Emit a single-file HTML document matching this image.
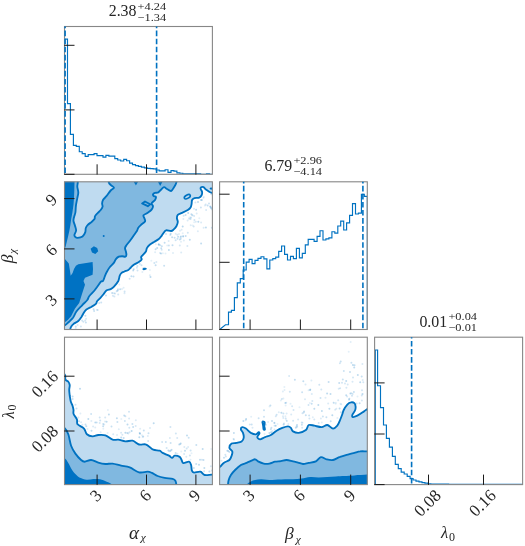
<!DOCTYPE html>
<html><head><meta charset="utf-8"><title>corner</title>
<style>html,body{margin:0;padding:0;background:#fff}svg{display:block}</style></head>
<body>
<svg width="525" height="546" viewBox="0 0 525 546">
<rect width="525" height="546" fill="#fff"/>
<defs>
<clipPath id="c00"><rect x="64.5" y="26.5" width="147.9" height="147.8"/></clipPath>
<clipPath id="c10"><rect x="64.5" y="181.8" width="147.9" height="147.7"/></clipPath>
<clipPath id="c20"><rect x="64.5" y="337.2" width="147.9" height="147.4"/></clipPath>
<clipPath id="c01"><rect x="219.6" y="26.5" width="147.7" height="147.8"/></clipPath>
<clipPath id="c11"><rect x="219.6" y="181.8" width="147.7" height="147.7"/></clipPath>
<clipPath id="c21"><rect x="219.6" y="337.2" width="147.7" height="147.4"/></clipPath>
<clipPath id="c02"><rect x="374.6" y="26.5" width="148.0" height="147.8"/></clipPath>
<clipPath id="c12"><rect x="374.6" y="181.8" width="148.0" height="147.7"/></clipPath>
<clipPath id="c22"><rect x="374.6" y="337.2" width="148.0" height="147.4"/></clipPath>
</defs>
<g clip-path="url(#c00)">
<path d="M64.5,39.1L64.5,39.1L67.5,39.1L67.5,103.6L70.4,103.6L70.4,134.3L73.4,134.3L73.4,145.3L76.3,145.3L76.3,146.4L79.3,146.4L79.3,151.7L82.2,151.7L82.2,153.6L85.2,153.6L85.2,156.4L88.2,156.4L88.2,154.6L91.1,154.6L91.1,154.6L94.1,154.6L94.1,153.6L97.0,153.6L97.0,155.6L100.0,155.6L100.0,155.6L103.0,155.6L103.0,157.1L105.9,157.1L105.9,155.4L108.9,155.4L108.9,156.1L111.8,156.1L111.8,156.1L114.8,156.1L114.8,158.6L117.7,158.6L117.7,160.0L120.7,160.0L120.7,161.0L123.7,161.0L123.7,159.3L126.6,159.3L126.6,160.7L129.6,160.7L129.6,163.1L132.5,163.1L132.5,164.6L135.5,164.6L135.5,165.6L138.4,165.6L138.4,166.4L141.4,166.4L141.4,167.1L144.4,167.1L144.4,167.9L147.3,167.9L147.3,168.3L150.3,168.3L150.3,168.6L153.2,168.6L153.2,168.9L156.2,168.9L156.2,170.0L159.2,170.0L159.2,170.8L162.1,170.8L162.1,170.8L165.1,170.8L165.1,169.7L168.0,169.7L168.0,172.3L171.0,172.3L171.0,170.6L173.9,170.6L173.9,171.1L176.9,171.1L176.9,172.9L179.9,172.9L179.9,173.2L182.8,173.2L182.8,173.8L185.8,173.8L185.8,173.8L188.7,173.8L188.7,173.8L191.7,173.8L191.7,173.8L194.7,173.8L194.7,173.8L197.6,173.8L197.6,173.8L200.6,173.8L200.6,174.4L203.5,174.4L203.5,174.3L206.5,174.3L206.5,173.8L209.4,173.8L209.4,174.4L212.4,174.4L212.4,174.3" fill="none" stroke="#0072c1" stroke-width="1.15" stroke-linejoin="miter"/>
</g>
<g clip-path="url(#c10)">
<g fill="#0072c1">
<circle cx="161.2" cy="248.3" r="1" fill-opacity="0.21"/>
<circle cx="189.4" cy="217.5" r="1" fill-opacity="0.12"/>
<circle cx="188.2" cy="213.1" r="1" fill-opacity="0.27"/>
<circle cx="96.7" cy="309.7" r="1" fill-opacity="0.11"/>
<circle cx="99.2" cy="302.9" r="1" fill-opacity="0.18"/>
<circle cx="150.5" cy="276.9" r="1" fill-opacity="0.27"/>
<circle cx="196.7" cy="213.4" r="1" fill-opacity="0.14"/>
<circle cx="118.2" cy="294.6" r="1" fill-opacity="0.17"/>
<circle cx="196.1" cy="209.7" r="1" fill-opacity="0.25"/>
<circle cx="133.5" cy="276.4" r="1" fill-opacity="0.23"/>
<circle cx="112.2" cy="292.9" r="1" fill-opacity="0.26"/>
<circle cx="183.4" cy="218.9" r="1" fill-opacity="0.12"/>
<circle cx="142.4" cy="272.1" r="1" fill-opacity="0.12"/>
<circle cx="168.6" cy="240.9" r="1" fill-opacity="0.14"/>
<circle cx="203.6" cy="227.7" r="1" fill-opacity="0.14"/>
<circle cx="181.2" cy="252.4" r="1" fill-opacity="0.14"/>
<circle cx="119.3" cy="284.6" r="1" fill-opacity="0.12"/>
<circle cx="161.7" cy="249.7" r="1" fill-opacity="0.16"/>
<circle cx="198.0" cy="202.1" r="1" fill-opacity="0.25"/>
<circle cx="191.4" cy="214.3" r="1" fill-opacity="0.23"/>
<circle cx="204.9" cy="205.5" r="1" fill-opacity="0.12"/>
<circle cx="158.8" cy="244.3" r="1" fill-opacity="0.22"/>
<circle cx="173.0" cy="252.9" r="1" fill-opacity="0.13"/>
<circle cx="136.9" cy="267.7" r="1" fill-opacity="0.16"/>
<circle cx="157.2" cy="248.1" r="1" fill-opacity="0.25"/>
<circle cx="155.8" cy="244.2" r="1" fill-opacity="0.1"/>
<circle cx="189.8" cy="239.8" r="1" fill-opacity="0.26"/>
<circle cx="207.6" cy="205.4" r="1" fill-opacity="0.23"/>
<circle cx="206.1" cy="209.9" r="1" fill-opacity="0.16"/>
<circle cx="165.5" cy="253.4" r="1" fill-opacity="0.11"/>
<circle cx="187.8" cy="232.7" r="1" fill-opacity="0.18"/>
<circle cx="203.7" cy="196.9" r="1" fill-opacity="0.15"/>
<circle cx="170.7" cy="233.7" r="1" fill-opacity="0.25"/>
<circle cx="179.8" cy="245.4" r="1" fill-opacity="0.16"/>
<circle cx="172.1" cy="237.2" r="1" fill-opacity="0.24"/>
<circle cx="209.0" cy="203.4" r="1" fill-opacity="0.2"/>
<circle cx="120.1" cy="289.3" r="1" fill-opacity="0.24"/>
<circle cx="113.9" cy="293.2" r="1" fill-opacity="0.15"/>
<circle cx="164.6" cy="242.8" r="1" fill-opacity="0.24"/>
<circle cx="162.9" cy="253.3" r="1" fill-opacity="0.1"/>
<circle cx="106.0" cy="295.5" r="1" fill-opacity="0.21"/>
<circle cx="139.9" cy="264.1" r="1" fill-opacity="0.18"/>
<circle cx="177.3" cy="234.8" r="1" fill-opacity="0.16"/>
<circle cx="179.8" cy="239.5" r="1" fill-opacity="0.23"/>
<circle cx="181.0" cy="236.4" r="1" fill-opacity="0.21"/>
<circle cx="201.1" cy="222.6" r="1" fill-opacity="0.14"/>
<circle cx="195.4" cy="202.4" r="1" fill-opacity="0.17"/>
<circle cx="149.9" cy="270.1" r="1" fill-opacity="0.11"/>
<circle cx="190.9" cy="217.4" r="1" fill-opacity="0.23"/>
<circle cx="94.1" cy="311.0" r="1" fill-opacity="0.22"/>
<circle cx="86.1" cy="318.8" r="1" fill-opacity="0.15"/>
<circle cx="183.1" cy="236.4" r="1" fill-opacity="0.24"/>
<circle cx="155.6" cy="249.3" r="1" fill-opacity="0.24"/>
<circle cx="154.3" cy="263.1" r="1" fill-opacity="0.2"/>
<circle cx="141.5" cy="265.2" r="1" fill-opacity="0.21"/>
<circle cx="75.8" cy="326.4" r="1" fill-opacity="0.22"/>
<circle cx="122.0" cy="289.1" r="1" fill-opacity="0.12"/>
<circle cx="183.2" cy="235.9" r="1" fill-opacity="0.14"/>
<circle cx="137.5" cy="270.4" r="1" fill-opacity="0.19"/>
<circle cx="97.6" cy="310.0" r="1" fill-opacity="0.21"/>
<circle cx="124.5" cy="293.3" r="1" fill-opacity="0.14"/>
<circle cx="114.4" cy="296.6" r="1" fill-opacity="0.17"/>
<circle cx="190.5" cy="219.0" r="1" fill-opacity="0.22"/>
<circle cx="190.7" cy="225.2" r="1" fill-opacity="0.13"/>
<circle cx="82.1" cy="320.4" r="1" fill-opacity="0.19"/>
<circle cx="93.6" cy="309.3" r="1" fill-opacity="0.24"/>
<circle cx="151.3" cy="260.7" r="1" fill-opacity="0.1"/>
<circle cx="180.0" cy="230.7" r="1" fill-opacity="0.13"/>
<circle cx="155.6" cy="265.2" r="1" fill-opacity="0.24"/>
<circle cx="168.9" cy="245.4" r="1" fill-opacity="0.19"/>
<circle cx="205.9" cy="227.5" r="1" fill-opacity="0.25"/>
<circle cx="192.7" cy="225.5" r="1" fill-opacity="0.11"/>
<circle cx="175.6" cy="240.2" r="1" fill-opacity="0.2"/>
<circle cx="164.1" cy="265.8" r="1" fill-opacity="0.21"/>
<circle cx="182.7" cy="233.2" r="1" fill-opacity="0.11"/>
<circle cx="210.2" cy="206.6" r="1" fill-opacity="0.26"/>
<circle cx="197.9" cy="231.2" r="1" fill-opacity="0.13"/>
<circle cx="143.5" cy="267.9" r="1" fill-opacity="0.2"/>
<circle cx="160.2" cy="245.2" r="1" fill-opacity="0.21"/>
<circle cx="160.0" cy="253.0" r="1" fill-opacity="0.15"/>
<circle cx="80.9" cy="326.5" r="1" fill-opacity="0.17"/>
<circle cx="201.0" cy="200.0" r="1" fill-opacity="0.27"/>
<circle cx="137.4" cy="265.9" r="1" fill-opacity="0.19"/>
<circle cx="170.3" cy="235.0" r="1" fill-opacity="0.2"/>
<circle cx="189.0" cy="218.8" r="1" fill-opacity="0.15"/>
<circle cx="177.5" cy="238.8" r="1" fill-opacity="0.21"/>
<circle cx="182.7" cy="226.6" r="1" fill-opacity="0.27"/>
<circle cx="203.4" cy="198.1" r="1" fill-opacity="0.11"/>
<circle cx="167.2" cy="245.6" r="1" fill-opacity="0.11"/>
<circle cx="85.9" cy="322.6" r="1" fill-opacity="0.21"/>
<circle cx="187.6" cy="220.5" r="1" fill-opacity="0.14"/>
<circle cx="198.3" cy="221.8" r="1" fill-opacity="0.27"/>
<circle cx="133.7" cy="269.3" r="1" fill-opacity="0.25"/>
<circle cx="85.2" cy="320.6" r="1" fill-opacity="0.18"/>
<circle cx="181.0" cy="241.8" r="1" fill-opacity="0.11"/>
<circle cx="179.0" cy="234.0" r="1" fill-opacity="0.12"/>
<circle cx="129.6" cy="278.8" r="1" fill-opacity="0.2"/>
<circle cx="117.7" cy="290.6" r="1" fill-opacity="0.26"/>
<circle cx="205.7" cy="204.5" r="1" fill-opacity="0.16"/>
<circle cx="131.4" cy="276.3" r="1" fill-opacity="0.24"/>
<circle cx="161.0" cy="253.4" r="1" fill-opacity="0.25"/>
<circle cx="115.0" cy="293.4" r="1" fill-opacity="0.19"/>
<circle cx="185.6" cy="215.1" r="1" fill-opacity="0.23"/>
<circle cx="212.0" cy="209.4" r="1" fill-opacity="0.12"/>
<circle cx="181.6" cy="229.7" r="1" fill-opacity="0.14"/>
<circle cx="193.7" cy="226.4" r="1" fill-opacity="0.17"/>
<circle cx="174.6" cy="237.7" r="1" fill-opacity="0.22"/>
<circle cx="172.5" cy="245.3" r="1" fill-opacity="0.24"/>
<circle cx="133.2" cy="270.5" r="1" fill-opacity="0.23"/>
<circle cx="183.6" cy="215.7" r="1" fill-opacity="0.18"/>
<circle cx="77.6" cy="325.0" r="1" fill-opacity="0.14"/>
<circle cx="158.7" cy="244.5" r="1" fill-opacity="0.15"/>
<circle cx="192.4" cy="215.3" r="1" fill-opacity="0.25"/>
<circle cx="194.4" cy="220.1" r="1" fill-opacity="0.19"/>
<circle cx="166.0" cy="234.1" r="1" fill-opacity="0.18"/>
<circle cx="175.7" cy="233.7" r="1" fill-opacity="0.13"/>
<circle cx="124.6" cy="291.5" r="1" fill-opacity="0.19"/>
<circle cx="194.0" cy="208.7" r="1" fill-opacity="0.15"/>
<circle cx="180.5" cy="237.2" r="1" fill-opacity="0.18"/>
<circle cx="156.4" cy="262.1" r="1" fill-opacity="0.15"/>
<circle cx="118.0" cy="289.2" r="1" fill-opacity="0.18"/>
<circle cx="183.9" cy="240.4" r="1" fill-opacity="0.12"/>
<circle cx="180.9" cy="238.8" r="1" fill-opacity="0.18"/>
<circle cx="195.8" cy="221.7" r="1" fill-opacity="0.15"/>
<circle cx="116.7" cy="291.2" r="1" fill-opacity="0.21"/>
<circle cx="112.9" cy="295.8" r="1" fill-opacity="0.16"/>
<circle cx="85.4" cy="315.7" r="1" fill-opacity="0.22"/>
<circle cx="178.1" cy="236.8" r="1" fill-opacity="0.24"/>
<circle cx="158.8" cy="245.0" r="1" fill-opacity="0.13"/>
<circle cx="194.1" cy="215.9" r="1" fill-opacity="0.17"/>
<circle cx="194.1" cy="222.2" r="1" fill-opacity="0.1"/>
<circle cx="123.6" cy="287.7" r="1" fill-opacity="0.12"/>
<circle cx="168.9" cy="249.9" r="1" fill-opacity="0.25"/>
<circle cx="155.1" cy="252.2" r="1" fill-opacity="0.12"/>
<circle cx="211.8" cy="227.7" r="1" fill-opacity="0.21"/>
<circle cx="101.2" cy="302.6" r="1" fill-opacity="0.2"/>
<circle cx="187.4" cy="246.1" r="1" fill-opacity="0.16"/>
<circle cx="149.9" cy="275.2" r="1" fill-opacity="0.12"/>
<circle cx="211.1" cy="207.8" r="1" fill-opacity="0.2"/>
<circle cx="199.3" cy="218.2" r="1" fill-opacity="0.11"/>
<circle cx="211.4" cy="194.2" r="1" fill-opacity="0.21"/>
<circle cx="185.7" cy="236.1" r="1" fill-opacity="0.24"/>
<circle cx="75.7" cy="328.2" r="1" fill-opacity="0.12"/>
<circle cx="161.9" cy="246.2" r="1" fill-opacity="0.21"/>
<circle cx="201.1" cy="243.4" r="1" fill-opacity="0.24"/>
<circle cx="200.9" cy="207.4" r="1" fill-opacity="0.2"/>
<circle cx="210.5" cy="207.0" r="1" fill-opacity="0.17"/>
<circle cx="202.0" cy="199.9" r="1" fill-opacity="0.22"/>
<circle cx="211.3" cy="208.6" r="1" fill-opacity="0.23"/>
<circle cx="83.4" cy="321.8" r="1" fill-opacity="0.19"/>
</g>
<path d="M219.0,193.3C217.8,193.2 213.8,193.2 212.1,192.9C210.4,192.6 209.8,192.1 208.8,191.5C207.8,190.9 206.8,190.3 205.9,189.6C205.0,188.9 204.3,187.6 203.5,187.2C202.7,186.8 201.6,186.9 201.1,187.2C200.6,187.5 200.5,188.3 200.7,189.1C200.9,189.9 201.9,191.0 202.1,192.0C202.2,193.0 202.1,194.4 201.6,195.3C201.1,196.2 200.4,197.2 199.2,197.7C198.0,198.2 195.7,197.7 194.5,198.1C193.3,198.5 192.6,199.0 192.1,200.0C191.6,201.0 191.8,202.7 191.6,203.9C191.4,205.1 191.3,206.2 190.7,207.2C190.1,208.2 189.2,209.1 187.8,210.0C186.4,210.9 183.8,212.1 182.1,212.9C180.4,213.7 178.7,213.9 177.8,214.8C176.9,215.7 176.9,216.9 176.9,218.1C176.9,219.3 177.9,220.7 177.8,222.0C177.7,223.3 177.1,224.9 176.4,226.2C175.7,227.5 174.4,228.8 173.5,229.6C172.6,230.4 172.3,230.9 171.1,231.0C169.9,231.1 167.3,230.1 166.1,230.3C164.9,230.5 164.8,231.5 164.0,232.4C163.2,233.3 162.5,234.7 161.6,235.8C160.7,236.9 160.1,238.1 158.8,239.1C157.5,240.1 155.5,241.1 154.0,242.0C152.5,242.9 150.9,243.8 149.7,244.8C148.5,245.8 147.5,247.0 146.9,248.1C146.3,249.2 146.6,250.3 145.9,251.5C145.2,252.7 143.4,254.4 142.6,255.3C141.8,256.2 141.3,256.5 141.1,257.2C140.9,257.9 142.0,258.8 141.6,259.6C141.2,260.4 140.0,261.2 138.8,262.0C137.6,262.8 135.8,263.4 134.5,264.3C133.2,265.2 132.1,266.2 131.1,267.2C130.1,268.1 129.4,269.3 128.3,270.0C127.2,270.7 125.6,271.0 124.5,271.5C123.4,272.0 122.4,272.2 121.6,272.9C120.8,273.6 120.2,274.4 119.7,275.8C119.2,277.2 119.2,279.2 118.3,281.0C117.3,282.8 115.3,285.3 114.0,286.7C112.7,288.1 112.0,288.5 110.7,289.1C109.4,289.7 107.6,289.6 106.4,290.5C105.2,291.4 104.6,292.9 103.5,294.3C102.4,295.7 100.8,297.4 99.7,298.6C98.6,299.8 97.5,300.6 96.9,301.5C96.3,302.4 96.8,303.0 95.9,303.9C95.0,304.8 93.2,305.8 91.6,306.7C90.0,307.6 87.7,308.7 86.4,309.6C85.1,310.6 84.8,311.2 84.0,312.4C83.2,313.6 82.5,315.3 81.6,316.7C80.6,318.1 79.6,319.8 78.3,321.0C77.0,322.2 74.7,322.9 73.5,323.9C72.3,324.8 71.6,325.8 71.1,326.7C70.5,327.6 70.4,328.1 70.2,329.6C70.0,331.1 69.9,334.7 69.8,335.7L58.5,335.7L58.5,175.7L219.0,175.7Z" fill="#bfdbf0" stroke="none" fill-rule="evenodd"/>
<path d="M77.8,175.7C77.8,176.8 77.9,180.6 77.8,182.4C77.7,184.2 77.2,185.0 77.3,186.7C77.4,188.4 78.3,190.5 78.3,192.4C78.3,194.3 77.7,195.9 77.3,198.1C76.9,200.3 76.2,203.4 75.9,205.8C75.6,208.2 75.7,210.5 75.4,212.4C75.1,214.3 74.3,215.8 74.0,217.2C73.7,218.6 73.3,219.6 73.5,221.0C73.7,222.4 74.6,224.2 75.0,225.8C75.4,227.4 76.2,229.0 76.1,230.5C76.0,232.0 74.5,233.9 74.4,235.0C74.3,236.1 75.0,236.7 75.5,237.2C76.0,237.7 76.5,238.0 77.7,237.9C78.9,237.8 81.2,237.4 82.5,236.4C83.8,235.4 84.8,233.5 85.3,232.1C85.8,230.7 85.4,229.2 85.8,228.0C86.2,226.8 86.8,225.8 87.8,224.8C88.8,223.8 90.5,222.9 91.6,222.0C92.7,221.1 93.9,220.1 94.5,219.1C95.1,218.1 94.5,217.1 95.0,216.2C95.5,215.2 96.3,214.4 97.3,213.4C98.2,212.4 99.8,211.1 100.7,210.0C101.6,208.9 102.4,207.8 102.6,206.7C102.8,205.6 102.0,204.5 102.1,203.4C102.2,202.3 102.3,201.2 103.0,200.0C103.7,198.8 105.1,197.8 106.4,196.2C107.7,194.6 109.4,191.9 110.7,190.5C112.0,189.1 113.9,188.6 114.0,187.7C114.1,186.8 112.0,186.2 111.1,185.3C110.2,184.4 109.3,184.0 108.8,182.4C108.3,180.8 108.4,176.8 108.3,175.7L176.4,175.7C176.4,176.8 176.8,180.5 176.4,182.4C176.0,184.3 174.9,185.8 174.0,187.2C173.1,188.6 172.3,190.7 171.1,191.0C169.9,191.3 168.2,189.6 167.0,189.0C165.8,188.4 165.1,187.0 164.0,187.2C162.9,187.4 161.6,189.1 160.7,190.0C159.8,190.9 159.2,191.9 158.3,192.4C157.4,192.9 155.9,192.6 155.0,192.9C154.1,193.2 153.2,193.8 153.0,194.3C152.8,194.9 153.5,195.8 154.0,196.2C154.5,196.6 155.7,196.1 155.9,196.7C156.1,197.3 155.7,198.9 155.0,200.0C154.3,201.1 151.9,202.4 151.6,203.4C151.3,204.4 153.0,205.2 153.0,206.2C153.0,207.2 152.5,208.5 151.6,209.6C150.7,210.7 148.7,211.9 147.3,212.9C146.0,213.9 144.0,214.4 143.5,215.3C143.0,216.2 144.2,217.6 144.5,218.6C144.8,219.6 145.6,220.5 145.0,221.5C144.4,222.5 142.2,223.8 141.1,224.8C140.0,225.8 139.0,226.7 138.3,227.7C137.6,228.7 137.7,229.7 136.9,231.0C136.1,232.3 134.6,234.2 133.5,235.8C132.4,237.4 131.4,238.9 130.2,240.5C129.0,242.1 127.3,244.0 126.4,245.3C125.5,246.6 125.1,247.1 125.0,248.1C124.9,249.1 125.7,250.4 125.9,251.5C126.1,252.6 126.5,253.9 126.4,254.8C126.3,255.7 126.1,256.5 125.4,256.7C124.7,256.9 123.2,256.2 122.1,256.2C121.0,256.2 119.8,256.2 118.8,256.7C117.8,257.2 116.7,258.1 115.9,259.1C115.1,260.1 115.0,261.2 114.0,262.6C113.0,264.0 110.8,265.8 109.7,267.2C108.6,268.6 108.1,269.6 107.3,271.0C106.5,272.4 105.7,274.1 105.0,275.8C104.3,277.5 103.7,280.1 103.0,281.0C102.3,281.9 102.0,280.6 101.1,281.5C100.1,282.4 98.4,285.2 97.3,286.7C96.2,288.2 95.8,288.9 94.5,290.5C93.2,292.1 90.4,294.6 89.2,296.2C88.0,297.8 88.5,298.5 87.3,300.0C86.1,301.5 83.9,303.4 82.1,305.3C80.3,307.2 77.9,309.4 76.4,311.5C74.9,313.6 74.3,315.9 73.0,317.7C71.7,319.4 70.1,320.7 68.8,322.0C67.5,323.3 66.7,324.3 65.0,325.3C63.3,326.3 59.6,327.6 58.5,328.0L58.5,175.7Z" fill="#80b8e0" stroke="none" fill-rule="evenodd"/>
<path d="M58.5,175.7L74.6,175.7L74.5,182.4L74.3,190.5L74.0,198.1L73.5,204.8L72.4,212.4L71.2,219.0L70.3,225.5L69.3,231.0L68.2,236.0L66.8,241.7L65.4,247.5L58.5,248.5Z" fill="#0072c3" stroke="none" fill-rule="evenodd"/>
<path d="M58.5,257.5L64.5,258.6L68.8,263.4L69.7,269.1L70.7,275.8L72.6,272.9L74.0,269.1L75.9,265.8L78.3,264.3L92.6,262.0L93.0,269.1L92.6,274.8L85.0,277.7L83.5,281.0L85.0,284.8L81.6,295.3L79.2,302.9L75.0,308.6L71.1,316.2L67.8,320.0L64.5,322.4L58.5,324.0Z" fill="#0072c3" stroke="none" fill-rule="evenodd"/>
<path d="M90.6,248.8L93.9,246.2L97.2,247.9L98.2,251.2L95.3,254.0L92.0,252.6Z" fill="#0072c3" stroke="none" fill-rule="evenodd"/>
<ellipse cx="187.3" cy="196.7" rx="3.3" ry="1.7" transform="rotate(-30 187.3 196.7)" fill="none" stroke="#0072c1" stroke-width="1.6"/>
<circle cx="103.7" cy="236" r="1.0" fill="#0072c3"/>
<path d="M219.0,193.3C217.8,193.2 213.8,193.2 212.1,192.9C210.4,192.6 209.8,192.1 208.8,191.5C207.8,190.9 206.8,190.3 205.9,189.6C205.0,188.9 204.3,187.6 203.5,187.2C202.7,186.8 201.6,186.9 201.1,187.2C200.6,187.5 200.5,188.3 200.7,189.1C200.9,189.9 201.9,191.0 202.1,192.0C202.2,193.0 202.1,194.4 201.6,195.3C201.1,196.2 200.4,197.2 199.2,197.7C198.0,198.2 195.7,197.7 194.5,198.1C193.3,198.5 192.6,199.0 192.1,200.0C191.6,201.0 191.8,202.7 191.6,203.9C191.4,205.1 191.3,206.2 190.7,207.2C190.1,208.2 189.2,209.1 187.8,210.0C186.4,210.9 183.8,212.1 182.1,212.9C180.4,213.7 178.7,213.9 177.8,214.8C176.9,215.7 176.9,216.9 176.9,218.1C176.9,219.3 177.9,220.7 177.8,222.0C177.7,223.3 177.1,224.9 176.4,226.2C175.7,227.5 174.4,228.8 173.5,229.6C172.6,230.4 172.3,230.9 171.1,231.0C169.9,231.1 167.3,230.1 166.1,230.3C164.9,230.5 164.8,231.5 164.0,232.4C163.2,233.3 162.5,234.7 161.6,235.8C160.7,236.9 160.1,238.1 158.8,239.1C157.5,240.1 155.5,241.1 154.0,242.0C152.5,242.9 150.9,243.8 149.7,244.8C148.5,245.8 147.5,247.0 146.9,248.1C146.3,249.2 146.6,250.3 145.9,251.5C145.2,252.7 143.4,254.4 142.6,255.3C141.8,256.2 141.3,256.5 141.1,257.2C140.9,257.9 142.0,258.8 141.6,259.6C141.2,260.4 140.0,261.2 138.8,262.0C137.6,262.8 135.8,263.4 134.5,264.3C133.2,265.2 132.1,266.2 131.1,267.2C130.1,268.1 129.4,269.3 128.3,270.0C127.2,270.7 125.6,271.0 124.5,271.5C123.4,272.0 122.4,272.2 121.6,272.9C120.8,273.6 120.2,274.4 119.7,275.8C119.2,277.2 119.2,279.2 118.3,281.0C117.3,282.8 115.3,285.3 114.0,286.7C112.7,288.1 112.0,288.5 110.7,289.1C109.4,289.7 107.6,289.6 106.4,290.5C105.2,291.4 104.6,292.9 103.5,294.3C102.4,295.7 100.8,297.4 99.7,298.6C98.6,299.8 97.5,300.6 96.9,301.5C96.3,302.4 96.8,303.0 95.9,303.9C95.0,304.8 93.2,305.8 91.6,306.7C90.0,307.6 87.7,308.7 86.4,309.6C85.1,310.6 84.8,311.2 84.0,312.4C83.2,313.6 82.5,315.3 81.6,316.7C80.6,318.1 79.6,319.8 78.3,321.0C77.0,322.2 74.7,322.9 73.5,323.9C72.3,324.8 71.6,325.8 71.1,326.7C70.5,327.6 70.4,328.1 70.2,329.6C70.0,331.1 69.9,334.7 69.8,335.7" fill="none" stroke="#0072c1" stroke-width="1.85" stroke-linejoin="round"/>
<path d="M77.8,175.7C77.8,176.8 77.9,180.6 77.8,182.4C77.7,184.2 77.2,185.0 77.3,186.7C77.4,188.4 78.3,190.5 78.3,192.4C78.3,194.3 77.7,195.9 77.3,198.1C76.9,200.3 76.2,203.4 75.9,205.8C75.6,208.2 75.7,210.5 75.4,212.4C75.1,214.3 74.3,215.8 74.0,217.2C73.7,218.6 73.3,219.6 73.5,221.0C73.7,222.4 74.6,224.2 75.0,225.8C75.4,227.4 76.2,229.0 76.1,230.5C76.0,232.0 74.5,233.9 74.4,235.0C74.3,236.1 75.0,236.7 75.5,237.2C76.0,237.7 76.5,238.0 77.7,237.9C78.9,237.8 81.2,237.4 82.5,236.4C83.8,235.4 84.8,233.5 85.3,232.1C85.8,230.7 85.4,229.2 85.8,228.0C86.2,226.8 86.8,225.8 87.8,224.8C88.8,223.8 90.5,222.9 91.6,222.0C92.7,221.1 93.9,220.1 94.5,219.1C95.1,218.1 94.5,217.1 95.0,216.2C95.5,215.2 96.3,214.4 97.3,213.4C98.2,212.4 99.8,211.1 100.7,210.0C101.6,208.9 102.4,207.8 102.6,206.7C102.8,205.6 102.0,204.5 102.1,203.4C102.2,202.3 102.3,201.2 103.0,200.0C103.7,198.8 105.1,197.8 106.4,196.2C107.7,194.6 109.4,191.9 110.7,190.5C112.0,189.1 113.9,188.6 114.0,187.7C114.1,186.8 112.0,186.2 111.1,185.3C110.2,184.4 109.3,184.0 108.8,182.4C108.3,180.8 108.4,176.8 108.3,175.7" fill="none" stroke="#0072c1" stroke-width="1.85" stroke-linejoin="round"/>
<path d="M176.4,175.7C176.4,176.8 176.8,180.5 176.4,182.4C176.0,184.3 174.9,185.8 174.0,187.2C173.1,188.6 172.3,190.7 171.1,191.0C169.9,191.3 168.2,189.6 167.0,189.0C165.8,188.4 165.1,187.0 164.0,187.2C162.9,187.4 161.6,189.1 160.7,190.0C159.8,190.9 159.2,191.9 158.3,192.4C157.4,192.9 155.9,192.6 155.0,192.9C154.1,193.2 153.2,193.8 153.0,194.3C152.8,194.9 153.5,195.8 154.0,196.2C154.5,196.6 155.7,196.1 155.9,196.7C156.1,197.3 155.7,198.9 155.0,200.0C154.3,201.1 151.9,202.4 151.6,203.4C151.3,204.4 153.0,205.2 153.0,206.2C153.0,207.2 152.5,208.5 151.6,209.6C150.7,210.7 148.7,211.9 147.3,212.9C146.0,213.9 144.0,214.4 143.5,215.3C143.0,216.2 144.2,217.6 144.5,218.6C144.8,219.6 145.6,220.5 145.0,221.5C144.4,222.5 142.2,223.8 141.1,224.8C140.0,225.8 139.0,226.7 138.3,227.7C137.6,228.7 137.7,229.7 136.9,231.0C136.1,232.3 134.6,234.2 133.5,235.8C132.4,237.4 131.4,238.9 130.2,240.5C129.0,242.1 127.3,244.0 126.4,245.3C125.5,246.6 125.1,247.1 125.0,248.1C124.9,249.1 125.7,250.4 125.9,251.5C126.1,252.6 126.5,253.9 126.4,254.8C126.3,255.7 126.1,256.5 125.4,256.7C124.7,256.9 123.2,256.2 122.1,256.2C121.0,256.2 119.8,256.2 118.8,256.7C117.8,257.2 116.7,258.1 115.9,259.1C115.1,260.1 115.0,261.2 114.0,262.6C113.0,264.0 110.8,265.8 109.7,267.2C108.6,268.6 108.1,269.6 107.3,271.0C106.5,272.4 105.7,274.1 105.0,275.8C104.3,277.5 103.7,280.1 103.0,281.0C102.3,281.9 102.0,280.6 101.1,281.5C100.1,282.4 98.4,285.2 97.3,286.7C96.2,288.2 95.8,288.9 94.5,290.5C93.2,292.1 90.4,294.6 89.2,296.2C88.0,297.8 88.5,298.5 87.3,300.0C86.1,301.5 83.9,303.4 82.1,305.3C80.3,307.2 77.9,309.4 76.4,311.5C74.9,313.6 74.3,315.9 73.0,317.7C71.7,319.4 70.1,320.7 68.8,322.0C67.5,323.3 66.7,324.3 65.0,325.3C63.3,326.3 59.6,327.6 58.5,328.0" fill="none" stroke="#0072c1" stroke-width="1.85" stroke-linejoin="round"/>
<path d="M142.1,203.4L145.0,201.5L150.2,204.3L147.8,206.2Z" fill="none" stroke="#0072c1" stroke-width="1.85" stroke-linejoin="round"/>
<ellipse cx="144.6" cy="268.9" rx="2.2" ry="1.2" transform="rotate(-8 144.6 268.9)" fill="#0072c1"/>
<ellipse cx="211.2" cy="188.6" rx="1.6" ry="1.1" transform="rotate(0 211.2 188.6)" fill="#0072c1"/>
<polygon points="133.6,181.5 138.2,181.5 135.9,185.4" fill="#0072c1"/>
<polygon points="157.8,181.5 162.6,181.5 160.2,186.0" fill="#0072c1"/>
</g>
<g clip-path="url(#c11)">
<path d="M219.6,329.5L225.5,324.7L225.5,324.7L228.5,324.7L228.5,312.1L231.4,312.1L231.4,310.4L234.4,310.4L234.4,297.6L237.3,297.6L237.3,282.9L240.3,282.9L240.3,278.6L243.2,278.6L243.2,270.0L246.2,270.0L246.2,262.1L249.1,262.1L249.1,259.3L252.1,259.3L252.1,263.6L255.0,263.6L255.0,260.4L258.0,260.4L258.0,258.3L261.0,258.3L261.0,256.7L263.9,256.7L263.9,258.9L266.9,258.9L266.9,268.9L269.8,268.9L269.8,260.0L272.8,260.0L272.8,258.6L275.7,258.6L275.7,257.1L278.7,257.1L278.7,251.4L281.6,251.4L281.6,246.0L284.6,246.0L284.6,254.3L287.5,254.3L287.5,260.0L290.5,260.0L290.5,256.4L293.4,256.4L293.4,258.6L296.4,258.6L296.4,248.3L299.4,248.3L299.4,257.9L302.3,257.9L302.3,253.3L305.3,253.3L305.3,244.8L308.2,244.8L308.2,239.3L311.2,239.3L311.2,239.3L314.1,239.3L314.1,241.4L317.1,241.4L317.1,236.4L320.0,236.4L320.0,230.7L323.0,230.7L323.0,240.0L325.9,240.0L325.9,238.9L328.9,238.9L328.9,237.9L331.9,237.9L331.9,231.7L334.8,231.7L334.8,233.1L337.8,233.1L337.8,226.0L340.7,226.0L340.7,221.1L343.7,221.1L343.7,230.0L346.6,230.0L346.6,222.9L349.6,222.9L349.6,215.4L352.5,215.4L352.5,203.6L355.5,203.6L355.5,214.0L358.4,214.0L358.4,213.1L361.4,213.1L361.4,194.3L364.3,194.3L364.3,196.4L367.3,196.4L367.3,329.5" fill="none" stroke="#0072c1" stroke-width="1.15" stroke-linejoin="miter"/>
</g>
<g clip-path="url(#c20)">
<g fill="#0072c1">
<circle cx="140.1" cy="428.7" r="1" fill-opacity="0.12"/>
<circle cx="72.6" cy="396.4" r="1" fill-opacity="0.24"/>
<circle cx="170.6" cy="443.0" r="1" fill-opacity="0.21"/>
<circle cx="91.5" cy="430.7" r="1" fill-opacity="0.25"/>
<circle cx="79.0" cy="421.2" r="1" fill-opacity="0.22"/>
<circle cx="121.3" cy="419.1" r="1" fill-opacity="0.1"/>
<circle cx="80.4" cy="413.6" r="1" fill-opacity="0.12"/>
<circle cx="211.8" cy="470.4" r="1" fill-opacity="0.17"/>
<circle cx="91.4" cy="421.1" r="1" fill-opacity="0.13"/>
<circle cx="170.4" cy="451.0" r="1" fill-opacity="0.24"/>
<circle cx="129.3" cy="427.8" r="1" fill-opacity="0.18"/>
<circle cx="127.5" cy="424.5" r="1" fill-opacity="0.26"/>
<circle cx="210.9" cy="466.3" r="1" fill-opacity="0.16"/>
<circle cx="169.3" cy="451.3" r="1" fill-opacity="0.14"/>
<circle cx="124.9" cy="421.1" r="1" fill-opacity="0.19"/>
<circle cx="75.5" cy="404.8" r="1" fill-opacity="0.19"/>
<circle cx="103.1" cy="426.2" r="1" fill-opacity="0.23"/>
<circle cx="85.5" cy="424.6" r="1" fill-opacity="0.22"/>
<circle cx="76.5" cy="408.5" r="1" fill-opacity="0.21"/>
<circle cx="78.3" cy="417.4" r="1" fill-opacity="0.15"/>
<circle cx="139.7" cy="433.1" r="1" fill-opacity="0.26"/>
<circle cx="95.2" cy="427.5" r="1" fill-opacity="0.13"/>
<circle cx="177.4" cy="453.7" r="1" fill-opacity="0.15"/>
<circle cx="181.2" cy="451.4" r="1" fill-opacity="0.1"/>
<circle cx="80.0" cy="388.7" r="1" fill-opacity="0.27"/>
<circle cx="143.2" cy="436.6" r="1" fill-opacity="0.23"/>
<circle cx="189.9" cy="455.5" r="1" fill-opacity="0.19"/>
<circle cx="139.3" cy="437.3" r="1" fill-opacity="0.26"/>
<circle cx="199.0" cy="464.8" r="1" fill-opacity="0.25"/>
<circle cx="111.5" cy="426.4" r="1" fill-opacity="0.22"/>
<circle cx="171.8" cy="449.8" r="1" fill-opacity="0.14"/>
<circle cx="168.4" cy="450.6" r="1" fill-opacity="0.25"/>
<circle cx="131.6" cy="431.0" r="1" fill-opacity="0.27"/>
<circle cx="153.7" cy="423.2" r="1" fill-opacity="0.26"/>
<circle cx="180.7" cy="443.4" r="1" fill-opacity="0.25"/>
<circle cx="184.1" cy="454.0" r="1" fill-opacity="0.16"/>
<circle cx="175.6" cy="453.1" r="1" fill-opacity="0.22"/>
<circle cx="202.7" cy="449.0" r="1" fill-opacity="0.25"/>
<circle cx="147.8" cy="436.1" r="1" fill-opacity="0.12"/>
<circle cx="124.2" cy="415.4" r="1" fill-opacity="0.22"/>
<circle cx="148.1" cy="441.1" r="1" fill-opacity="0.19"/>
<circle cx="171.2" cy="450.1" r="1" fill-opacity="0.17"/>
<circle cx="117.0" cy="435.0" r="1" fill-opacity="0.12"/>
<circle cx="117.4" cy="421.9" r="1" fill-opacity="0.21"/>
<circle cx="204.1" cy="471.3" r="1" fill-opacity="0.18"/>
<circle cx="135.7" cy="426.0" r="1" fill-opacity="0.16"/>
<circle cx="107.9" cy="409.9" r="1" fill-opacity="0.1"/>
<circle cx="122.4" cy="434.8" r="1" fill-opacity="0.17"/>
<circle cx="103.2" cy="423.9" r="1" fill-opacity="0.22"/>
<circle cx="95.3" cy="422.6" r="1" fill-opacity="0.24"/>
<circle cx="108.9" cy="414.5" r="1" fill-opacity="0.24"/>
<circle cx="105.2" cy="417.4" r="1" fill-opacity="0.17"/>
<circle cx="170.4" cy="427.0" r="1" fill-opacity="0.19"/>
<circle cx="169.9" cy="438.0" r="1" fill-opacity="0.15"/>
<circle cx="142.6" cy="436.9" r="1" fill-opacity="0.12"/>
<circle cx="103.3" cy="428.7" r="1" fill-opacity="0.11"/>
<circle cx="188.7" cy="437.8" r="1" fill-opacity="0.2"/>
<circle cx="129.1" cy="418.5" r="1" fill-opacity="0.15"/>
<circle cx="91.1" cy="414.1" r="1" fill-opacity="0.2"/>
<circle cx="184.3" cy="447.1" r="1" fill-opacity="0.14"/>
<circle cx="129.5" cy="432.2" r="1" fill-opacity="0.17"/>
<circle cx="186.3" cy="456.8" r="1" fill-opacity="0.14"/>
<circle cx="209.4" cy="471.5" r="1" fill-opacity="0.24"/>
<circle cx="196.2" cy="464.0" r="1" fill-opacity="0.22"/>
<circle cx="116.9" cy="418.2" r="1" fill-opacity="0.24"/>
<circle cx="100.6" cy="432.2" r="1" fill-opacity="0.15"/>
<circle cx="72.6" cy="399.1" r="1" fill-opacity="0.22"/>
<circle cx="113.2" cy="434.2" r="1" fill-opacity="0.15"/>
<circle cx="193.9" cy="467.9" r="1" fill-opacity="0.22"/>
<circle cx="148.5" cy="433.2" r="1" fill-opacity="0.21"/>
<circle cx="186.7" cy="448.4" r="1" fill-opacity="0.18"/>
<circle cx="162.1" cy="441.9" r="1" fill-opacity="0.19"/>
<circle cx="175.9" cy="433.5" r="1" fill-opacity="0.18"/>
<circle cx="196.3" cy="444.9" r="1" fill-opacity="0.22"/>
<circle cx="133.1" cy="427.1" r="1" fill-opacity="0.23"/>
<circle cx="190.5" cy="459.8" r="1" fill-opacity="0.12"/>
<circle cx="82.4" cy="424.7" r="1" fill-opacity="0.14"/>
<circle cx="88.3" cy="419.0" r="1" fill-opacity="0.26"/>
<circle cx="211.2" cy="449.1" r="1" fill-opacity="0.1"/>
<circle cx="104.2" cy="424.5" r="1" fill-opacity="0.14"/>
<circle cx="180.1" cy="444.3" r="1" fill-opacity="0.15"/>
<circle cx="106.6" cy="421.7" r="1" fill-opacity="0.26"/>
<circle cx="125.4" cy="416.3" r="1" fill-opacity="0.2"/>
<circle cx="166.6" cy="448.1" r="1" fill-opacity="0.18"/>
<circle cx="177.2" cy="438.1" r="1" fill-opacity="0.16"/>
<circle cx="129.0" cy="411.8" r="1" fill-opacity="0.18"/>
<circle cx="99.7" cy="423.0" r="1" fill-opacity="0.16"/>
<circle cx="105.0" cy="421.4" r="1" fill-opacity="0.12"/>
<circle cx="150.0" cy="428.1" r="1" fill-opacity="0.14"/>
<circle cx="132.4" cy="423.9" r="1" fill-opacity="0.21"/>
<circle cx="96.7" cy="422.5" r="1" fill-opacity="0.2"/>
<circle cx="125.4" cy="432.7" r="1" fill-opacity="0.27"/>
<circle cx="118.8" cy="429.2" r="1" fill-opacity="0.13"/>
<circle cx="128.3" cy="433.4" r="1" fill-opacity="0.16"/>
<circle cx="121.1" cy="432.8" r="1" fill-opacity="0.16"/>
<circle cx="165.8" cy="441.9" r="1" fill-opacity="0.21"/>
<circle cx="81.1" cy="422.2" r="1" fill-opacity="0.14"/>
<circle cx="188.1" cy="447.1" r="1" fill-opacity="0.13"/>
<circle cx="135.8" cy="420.2" r="1" fill-opacity="0.14"/>
<circle cx="100.2" cy="420.6" r="1" fill-opacity="0.2"/>
<circle cx="140.0" cy="433.8" r="1" fill-opacity="0.26"/>
<circle cx="127.3" cy="432.9" r="1" fill-opacity="0.22"/>
<circle cx="179.2" cy="444.5" r="1" fill-opacity="0.22"/>
<circle cx="143.8" cy="430.5" r="1" fill-opacity="0.22"/>
<circle cx="121.2" cy="437.4" r="1" fill-opacity="0.25"/>
<circle cx="187.0" cy="435.4" r="1" fill-opacity="0.25"/>
<circle cx="93.1" cy="426.4" r="1" fill-opacity="0.15"/>
<circle cx="107.6" cy="433.1" r="1" fill-opacity="0.11"/>
<circle cx="87.5" cy="429.0" r="1" fill-opacity="0.12"/>
<circle cx="190.6" cy="450.6" r="1" fill-opacity="0.2"/>
<circle cx="204.3" cy="467.9" r="1" fill-opacity="0.25"/>
<circle cx="201.9" cy="459.8" r="1" fill-opacity="0.16"/>
<circle cx="99.7" cy="417.4" r="1" fill-opacity="0.19"/>
<circle cx="185.0" cy="450.8" r="1" fill-opacity="0.25"/>
<circle cx="86.3" cy="426.2" r="1" fill-opacity="0.24"/>
<circle cx="191.5" cy="453.3" r="1" fill-opacity="0.1"/>
<circle cx="142.0" cy="435.2" r="1" fill-opacity="0.11"/>
<circle cx="203.5" cy="460.0" r="1" fill-opacity="0.24"/>
<circle cx="200.0" cy="459.8" r="1" fill-opacity="0.24"/>
<circle cx="123.7" cy="438.0" r="1" fill-opacity="0.24"/>
</g>
<path d="M58.5,373.8C59.5,373.9 63.6,373.7 64.8,374.6C66.0,375.6 64.8,378.3 65.4,379.5C66.0,380.7 67.6,380.8 68.3,381.7C69.0,382.6 69.5,383.6 69.7,385.0C69.9,386.4 69.2,388.1 69.2,389.8C69.2,391.6 69.5,393.6 69.7,395.5C70.0,397.4 70.2,399.4 70.7,401.2C71.2,402.9 72.1,404.6 72.6,406.0C73.1,407.4 73.3,408.5 73.5,409.8C73.7,411.1 73.0,412.4 73.6,414.0C74.2,415.6 76.2,417.6 76.9,419.3C77.6,421.0 76.4,422.8 77.6,424.3C78.8,425.9 82.5,426.9 84.0,428.6C85.5,430.3 85.5,433.0 86.9,434.3C88.3,435.6 90.7,436.3 92.6,436.4C94.5,436.5 96.2,435.2 98.3,435.0C100.4,434.8 103.0,434.6 105.4,435.4C107.8,436.2 110.4,439.0 112.6,439.7C114.8,440.4 116.2,439.4 118.3,439.7C120.4,440.0 123.0,441.2 125.4,441.4C127.8,441.6 130.3,440.2 132.6,440.7C134.9,441.2 136.9,443.9 139.0,444.5C141.1,445.1 143.7,444.0 145.4,444.3C147.1,444.6 147.7,445.5 149.0,446.4C150.3,447.3 151.5,449.0 153.3,449.7C155.1,450.4 158.1,450.2 159.7,450.7C161.2,451.2 161.0,452.1 162.6,452.9C164.2,453.7 167.4,454.9 169.0,455.7C170.6,456.5 171.2,457.9 172.1,457.9C173.0,457.9 173.4,455.9 174.7,455.7C176.0,455.5 178.5,456.2 179.7,456.9C180.8,457.6 181.0,459.0 181.6,460.0C182.2,461.0 182.1,462.8 183.3,463.1C184.5,463.4 187.7,461.4 189.0,461.7C190.3,462.0 190.6,463.5 191.1,465.0C191.6,466.5 191.4,469.4 191.9,470.7C192.4,472.0 192.6,472.4 194.0,472.6C195.4,472.8 198.6,471.3 200.4,471.7C202.2,472.1 202.8,474.5 204.7,475.0C206.6,475.5 209.5,474.7 211.9,474.6C214.3,474.5 217.8,474.6 219.0,474.6L219.0,490.6L58.5,490.6Z" fill="#bfdbf0" stroke="none" fill-rule="evenodd"/>
<path d="M58.5,426.5C59.5,426.7 62.9,426.6 64.5,427.9C66.1,429.2 67.2,431.3 68.3,434.3C69.4,437.3 69.9,442.5 71.1,445.7C72.3,448.9 73.7,451.2 75.4,453.6C77.1,456.0 79.5,458.6 81.1,460.0C82.6,461.4 83.0,461.7 84.7,461.7C86.4,461.7 88.8,459.9 91.1,460.0C93.4,460.1 95.9,461.9 98.3,462.6C100.7,463.3 103.0,463.8 105.4,464.0C107.8,464.2 110.0,463.3 112.6,463.6C115.2,463.9 118.2,465.1 121.1,465.7C123.9,466.3 126.7,466.3 129.7,467.4C132.7,468.5 136.0,471.6 139.0,472.3C142.0,473.0 145.4,471.6 147.6,471.7C149.8,471.8 150.2,472.2 151.9,472.9C153.6,473.6 155.5,475.2 157.6,476.0C159.7,476.8 162.2,477.4 164.7,477.9C167.2,478.4 170.8,478.4 172.6,478.9C174.4,479.4 174.8,479.7 175.4,480.7C176.0,481.7 176.2,483.4 176.4,485.0C176.6,486.6 176.6,489.7 176.6,490.6L58.5,490.6Z" fill="#80b8e0" stroke="none" fill-rule="evenodd"/>
<path d="M58.5,457.0C59.5,457.1 62.9,456.9 64.5,457.9C66.1,458.9 67.0,460.8 68.3,462.9C69.6,465.0 71.2,468.7 72.6,470.8C74.0,472.9 75.7,474.4 76.9,475.5C78.1,476.6 78.4,477.0 80.0,477.7C81.6,478.4 84.5,479.5 86.7,479.7C88.9,479.9 91.1,479.1 93.3,479.0C95.5,478.9 97.8,478.8 100.0,479.2C102.2,479.6 104.7,480.8 106.7,481.7C108.7,482.6 111.0,483.1 112.0,484.6C113.0,486.1 112.8,489.6 113.0,490.6L58.5,490.6Z" fill="#0072c3" stroke="none" fill-rule="evenodd"/>
<path d="M58.5,373.8C59.5,373.9 63.6,373.7 64.8,374.6C66.0,375.6 64.8,378.3 65.4,379.5C66.0,380.7 67.6,380.8 68.3,381.7C69.0,382.6 69.5,383.6 69.7,385.0C69.9,386.4 69.2,388.1 69.2,389.8C69.2,391.6 69.5,393.6 69.7,395.5C70.0,397.4 70.2,399.4 70.7,401.2C71.2,402.9 72.1,404.6 72.6,406.0C73.1,407.4 73.3,408.5 73.5,409.8C73.7,411.1 73.0,412.4 73.6,414.0C74.2,415.6 76.2,417.6 76.9,419.3C77.6,421.0 76.4,422.8 77.6,424.3C78.8,425.9 82.5,426.9 84.0,428.6C85.5,430.3 85.5,433.0 86.9,434.3C88.3,435.6 90.7,436.3 92.6,436.4C94.5,436.5 96.2,435.2 98.3,435.0C100.4,434.8 103.0,434.6 105.4,435.4C107.8,436.2 110.4,439.0 112.6,439.7C114.8,440.4 116.2,439.4 118.3,439.7C120.4,440.0 123.0,441.2 125.4,441.4C127.8,441.6 130.3,440.2 132.6,440.7C134.9,441.2 136.9,443.9 139.0,444.5C141.1,445.1 143.7,444.0 145.4,444.3C147.1,444.6 147.7,445.5 149.0,446.4C150.3,447.3 151.5,449.0 153.3,449.7C155.1,450.4 158.1,450.2 159.7,450.7C161.2,451.2 161.0,452.1 162.6,452.9C164.2,453.7 167.4,454.9 169.0,455.7C170.6,456.5 171.2,457.9 172.1,457.9C173.0,457.9 173.4,455.9 174.7,455.7C176.0,455.5 178.5,456.2 179.7,456.9C180.8,457.6 181.0,459.0 181.6,460.0C182.2,461.0 182.1,462.8 183.3,463.1C184.5,463.4 187.7,461.4 189.0,461.7C190.3,462.0 190.6,463.5 191.1,465.0C191.6,466.5 191.4,469.4 191.9,470.7C192.4,472.0 192.6,472.4 194.0,472.6C195.4,472.8 198.6,471.3 200.4,471.7C202.2,472.1 202.8,474.5 204.7,475.0C206.6,475.5 209.5,474.7 211.9,474.6C214.3,474.5 217.8,474.6 219.0,474.6" fill="none" stroke="#0072c1" stroke-width="1.85" stroke-linejoin="round"/>
<path d="M58.5,426.5C59.5,426.7 62.9,426.6 64.5,427.9C66.1,429.2 67.2,431.3 68.3,434.3C69.4,437.3 69.9,442.5 71.1,445.7C72.3,448.9 73.7,451.2 75.4,453.6C77.1,456.0 79.5,458.6 81.1,460.0C82.6,461.4 83.0,461.7 84.7,461.7C86.4,461.7 88.8,459.9 91.1,460.0C93.4,460.1 95.9,461.9 98.3,462.6C100.7,463.3 103.0,463.8 105.4,464.0C107.8,464.2 110.0,463.3 112.6,463.6C115.2,463.9 118.2,465.1 121.1,465.7C123.9,466.3 126.7,466.3 129.7,467.4C132.7,468.5 136.0,471.6 139.0,472.3C142.0,473.0 145.4,471.6 147.6,471.7C149.8,471.8 150.2,472.2 151.9,472.9C153.6,473.6 155.5,475.2 157.6,476.0C159.7,476.8 162.2,477.4 164.7,477.9C167.2,478.4 170.8,478.4 172.6,478.9C174.4,479.4 174.8,479.7 175.4,480.7C176.0,481.7 176.2,483.4 176.4,485.0C176.6,486.6 176.6,489.7 176.6,490.6" fill="none" stroke="#0072c1" stroke-width="1.85" stroke-linejoin="round"/>
</g>
<g clip-path="url(#c21)">
<g fill="#0072c1">
<circle cx="320.9" cy="418.4" r="1" fill-opacity="0.14"/>
<circle cx="328.2" cy="403.5" r="1" fill-opacity="0.14"/>
<circle cx="264.0" cy="416.7" r="1" fill-opacity="0.2"/>
<circle cx="339.2" cy="383.1" r="1" fill-opacity="0.23"/>
<circle cx="359.6" cy="403.2" r="1" fill-opacity="0.24"/>
<circle cx="292.1" cy="406.3" r="1" fill-opacity="0.17"/>
<circle cx="274.2" cy="422.7" r="1" fill-opacity="0.12"/>
<circle cx="340.7" cy="361.4" r="1" fill-opacity="0.22"/>
<circle cx="301.9" cy="424.8" r="1" fill-opacity="0.22"/>
<circle cx="285.7" cy="418.4" r="1" fill-opacity="0.19"/>
<circle cx="309.4" cy="418.4" r="1" fill-opacity="0.18"/>
<circle cx="360.2" cy="382.2" r="1" fill-opacity="0.26"/>
<circle cx="227.3" cy="450.7" r="1" fill-opacity="0.24"/>
<circle cx="314.3" cy="408.7" r="1" fill-opacity="0.25"/>
<circle cx="350.4" cy="393.6" r="1" fill-opacity="0.25"/>
<circle cx="275.7" cy="425.7" r="1" fill-opacity="0.27"/>
<circle cx="309.1" cy="415.6" r="1" fill-opacity="0.2"/>
<circle cx="305.8" cy="415.2" r="1" fill-opacity="0.22"/>
<circle cx="270.8" cy="429.2" r="1" fill-opacity="0.22"/>
<circle cx="302.2" cy="427.8" r="1" fill-opacity="0.17"/>
<circle cx="271.1" cy="432.3" r="1" fill-opacity="0.27"/>
<circle cx="274.5" cy="429.6" r="1" fill-opacity="0.16"/>
<circle cx="293.5" cy="410.1" r="1" fill-opacity="0.18"/>
<circle cx="318.7" cy="423.1" r="1" fill-opacity="0.19"/>
<circle cx="353.9" cy="391.9" r="1" fill-opacity="0.22"/>
<circle cx="345.0" cy="383.4" r="1" fill-opacity="0.16"/>
<circle cx="308.6" cy="390.2" r="1" fill-opacity="0.13"/>
<circle cx="291.2" cy="414.5" r="1" fill-opacity="0.15"/>
<circle cx="284.5" cy="389.9" r="1" fill-opacity="0.12"/>
<circle cx="341.2" cy="404.3" r="1" fill-opacity="0.17"/>
<circle cx="225.9" cy="456.5" r="1" fill-opacity="0.18"/>
<circle cx="349.0" cy="399.7" r="1" fill-opacity="0.19"/>
<circle cx="268.1" cy="421.9" r="1" fill-opacity="0.12"/>
<circle cx="347.7" cy="384.6" r="1" fill-opacity="0.16"/>
<circle cx="271.4" cy="427.7" r="1" fill-opacity="0.22"/>
<circle cx="318.3" cy="404.9" r="1" fill-opacity="0.26"/>
<circle cx="285.3" cy="403.0" r="1" fill-opacity="0.24"/>
<circle cx="352.0" cy="395.7" r="1" fill-opacity="0.19"/>
<circle cx="339.6" cy="408.4" r="1" fill-opacity="0.26"/>
<circle cx="264.5" cy="434.0" r="1" fill-opacity="0.11"/>
<circle cx="327.1" cy="393.6" r="1" fill-opacity="0.25"/>
<circle cx="311.8" cy="393.9" r="1" fill-opacity="0.15"/>
<circle cx="332.3" cy="415.2" r="1" fill-opacity="0.27"/>
<circle cx="289.8" cy="391.7" r="1" fill-opacity="0.18"/>
<circle cx="221.5" cy="460.7" r="1" fill-opacity="0.16"/>
<circle cx="357.8" cy="374.9" r="1" fill-opacity="0.25"/>
<circle cx="281.8" cy="399.0" r="1" fill-opacity="0.18"/>
<circle cx="352.7" cy="393.9" r="1" fill-opacity="0.16"/>
<circle cx="290.5" cy="403.7" r="1" fill-opacity="0.11"/>
<circle cx="340.9" cy="412.2" r="1" fill-opacity="0.2"/>
<circle cx="265.9" cy="424.7" r="1" fill-opacity="0.19"/>
<circle cx="342.8" cy="379.4" r="1" fill-opacity="0.21"/>
<circle cx="283.6" cy="424.5" r="1" fill-opacity="0.25"/>
<circle cx="243.4" cy="421.0" r="1" fill-opacity="0.26"/>
<circle cx="309.8" cy="403.1" r="1" fill-opacity="0.1"/>
<circle cx="286.6" cy="413.4" r="1" fill-opacity="0.14"/>
<circle cx="283.4" cy="398.6" r="1" fill-opacity="0.12"/>
<circle cx="354.5" cy="365.3" r="1" fill-opacity="0.24"/>
<circle cx="320.5" cy="398.1" r="1" fill-opacity="0.2"/>
<circle cx="258.6" cy="418.2" r="1" fill-opacity="0.2"/>
<circle cx="310.1" cy="390.1" r="1" fill-opacity="0.25"/>
<circle cx="276.6" cy="414.7" r="1" fill-opacity="0.2"/>
<circle cx="281.4" cy="412.7" r="1" fill-opacity="0.26"/>
<circle cx="270.4" cy="405.6" r="1" fill-opacity="0.22"/>
<circle cx="275.8" cy="416.3" r="1" fill-opacity="0.17"/>
<circle cx="339.9" cy="363.3" r="1" fill-opacity="0.18"/>
<circle cx="280.9" cy="400.5" r="1" fill-opacity="0.11"/>
<circle cx="252.5" cy="427.8" r="1" fill-opacity="0.15"/>
<circle cx="362.4" cy="364.0" r="1" fill-opacity="0.15"/>
<circle cx="234.0" cy="439.8" r="1" fill-opacity="0.11"/>
<circle cx="277.5" cy="423.9" r="1" fill-opacity="0.1"/>
<circle cx="322.9" cy="416.5" r="1" fill-opacity="0.2"/>
<circle cx="350.0" cy="371.9" r="1" fill-opacity="0.22"/>
<circle cx="337.4" cy="418.0" r="1" fill-opacity="0.11"/>
<circle cx="311.7" cy="403.8" r="1" fill-opacity="0.23"/>
<circle cx="283.3" cy="418.1" r="1" fill-opacity="0.15"/>
<circle cx="305.5" cy="384.6" r="1" fill-opacity="0.15"/>
<circle cx="325.5" cy="397.7" r="1" fill-opacity="0.13"/>
<circle cx="346.2" cy="395.3" r="1" fill-opacity="0.24"/>
<circle cx="305.0" cy="399.2" r="1" fill-opacity="0.14"/>
<circle cx="269.4" cy="433.0" r="1" fill-opacity="0.25"/>
<circle cx="233.9" cy="433.1" r="1" fill-opacity="0.24"/>
<circle cx="286.3" cy="420.2" r="1" fill-opacity="0.1"/>
<circle cx="297.0" cy="425.1" r="1" fill-opacity="0.25"/>
<circle cx="330.7" cy="421.3" r="1" fill-opacity="0.23"/>
<circle cx="303.3" cy="381.3" r="1" fill-opacity="0.24"/>
<circle cx="308.5" cy="405.1" r="1" fill-opacity="0.19"/>
<circle cx="340.3" cy="403.8" r="1" fill-opacity="0.1"/>
<circle cx="336.3" cy="408.7" r="1" fill-opacity="0.15"/>
<circle cx="302.1" cy="392.3" r="1" fill-opacity="0.2"/>
<circle cx="302.5" cy="413.2" r="1" fill-opacity="0.19"/>
<circle cx="330.5" cy="393.9" r="1" fill-opacity="0.25"/>
<circle cx="302.5" cy="422.7" r="1" fill-opacity="0.14"/>
<circle cx="284.4" cy="387.1" r="1" fill-opacity="0.11"/>
<circle cx="272.0" cy="420.9" r="1" fill-opacity="0.24"/>
<circle cx="284.0" cy="423.4" r="1" fill-opacity="0.17"/>
<circle cx="338.2" cy="400.3" r="1" fill-opacity="0.17"/>
<circle cx="286.2" cy="402.7" r="1" fill-opacity="0.17"/>
<circle cx="348.7" cy="351.8" r="1" fill-opacity="0.11"/>
<circle cx="362.5" cy="394.0" r="1" fill-opacity="0.26"/>
<circle cx="295.8" cy="427.7" r="1" fill-opacity="0.24"/>
<circle cx="314.3" cy="419.6" r="1" fill-opacity="0.17"/>
<circle cx="357.5" cy="396.4" r="1" fill-opacity="0.11"/>
<circle cx="342.0" cy="382.7" r="1" fill-opacity="0.18"/>
<circle cx="361.7" cy="376.6" r="1" fill-opacity="0.22"/>
<circle cx="264.0" cy="410.3" r="1" fill-opacity="0.21"/>
<circle cx="293.1" cy="420.7" r="1" fill-opacity="0.18"/>
<circle cx="229.3" cy="452.1" r="1" fill-opacity="0.22"/>
<circle cx="350.7" cy="342.1" r="1" fill-opacity="0.12"/>
<circle cx="312.8" cy="417.3" r="1" fill-opacity="0.12"/>
<circle cx="335.9" cy="402.7" r="1" fill-opacity="0.11"/>
<circle cx="326.4" cy="417.3" r="1" fill-opacity="0.21"/>
<circle cx="286.9" cy="421.0" r="1" fill-opacity="0.18"/>
<circle cx="340.1" cy="388.3" r="1" fill-opacity="0.18"/>
<circle cx="299.5" cy="407.2" r="1" fill-opacity="0.1"/>
<circle cx="335.1" cy="409.8" r="1" fill-opacity="0.14"/>
<circle cx="285.4" cy="416.3" r="1" fill-opacity="0.12"/>
<circle cx="349.3" cy="398.7" r="1" fill-opacity="0.25"/>
<circle cx="311.4" cy="380.5" r="1" fill-opacity="0.13"/>
<circle cx="304.1" cy="411.5" r="1" fill-opacity="0.22"/>
<circle cx="289.1" cy="376.0" r="1" fill-opacity="0.16"/>
<circle cx="328.6" cy="382.1" r="1" fill-opacity="0.23"/>
<circle cx="346.2" cy="381.1" r="1" fill-opacity="0.26"/>
<circle cx="321.3" cy="389.4" r="1" fill-opacity="0.17"/>
<circle cx="249.8" cy="424.6" r="1" fill-opacity="0.17"/>
<circle cx="363.3" cy="382.3" r="1" fill-opacity="0.17"/>
<circle cx="251.7" cy="424.5" r="1" fill-opacity="0.21"/>
<circle cx="224.0" cy="457.7" r="1" fill-opacity="0.24"/>
<circle cx="329.4" cy="408.7" r="1" fill-opacity="0.26"/>
<circle cx="228.3" cy="451.0" r="1" fill-opacity="0.23"/>
<circle cx="319.3" cy="384.8" r="1" fill-opacity="0.19"/>
<circle cx="251.1" cy="416.7" r="1" fill-opacity="0.11"/>
<circle cx="351.4" cy="362.7" r="1" fill-opacity="0.21"/>
<circle cx="362.7" cy="380.0" r="1" fill-opacity="0.14"/>
<circle cx="285.6" cy="405.4" r="1" fill-opacity="0.11"/>
<circle cx="282.9" cy="391.5" r="1" fill-opacity="0.12"/>
<circle cx="351.5" cy="393.2" r="1" fill-opacity="0.16"/>
<circle cx="245.7" cy="420.2" r="1" fill-opacity="0.17"/>
<circle cx="361.8" cy="395.5" r="1" fill-opacity="0.17"/>
<circle cx="274.5" cy="425.7" r="1" fill-opacity="0.15"/>
<circle cx="321.8" cy="422.4" r="1" fill-opacity="0.12"/>
<circle cx="343.8" cy="370.9" r="1" fill-opacity="0.2"/>
<circle cx="312.3" cy="401.1" r="1" fill-opacity="0.17"/>
<circle cx="296.4" cy="426.4" r="1" fill-opacity="0.14"/>
<circle cx="352.9" cy="365.1" r="1" fill-opacity="0.25"/>
<circle cx="278.8" cy="412.2" r="1" fill-opacity="0.13"/>
<circle cx="303.7" cy="412.4" r="1" fill-opacity="0.17"/>
<circle cx="274.5" cy="423.1" r="1" fill-opacity="0.24"/>
<circle cx="361.9" cy="400.6" r="1" fill-opacity="0.16"/>
<circle cx="347.1" cy="396.5" r="1" fill-opacity="0.15"/>
<circle cx="233.6" cy="439.1" r="1" fill-opacity="0.21"/>
<circle cx="356.6" cy="403.5" r="1" fill-opacity="0.2"/>
<circle cx="225.3" cy="454.7" r="1" fill-opacity="0.18"/>
<circle cx="272.3" cy="431.0" r="1" fill-opacity="0.14"/>
<circle cx="246.1" cy="419.1" r="1" fill-opacity="0.26"/>
<circle cx="362.0" cy="390.2" r="1" fill-opacity="0.17"/>
<circle cx="310.3" cy="389.4" r="1" fill-opacity="0.18"/>
<circle cx="263.9" cy="424.6" r="1" fill-opacity="0.14"/>
<circle cx="353.0" cy="377.4" r="1" fill-opacity="0.18"/>
<circle cx="346.4" cy="387.8" r="1" fill-opacity="0.16"/>
<circle cx="333.7" cy="402.7" r="1" fill-opacity="0.25"/>
<circle cx="298.1" cy="419.5" r="1" fill-opacity="0.15"/>
<circle cx="301.7" cy="422.4" r="1" fill-opacity="0.17"/>
<circle cx="338.7" cy="388.8" r="1" fill-opacity="0.15"/>
<circle cx="283.4" cy="413.4" r="1" fill-opacity="0.21"/>
<circle cx="294.9" cy="379.7" r="1" fill-opacity="0.23"/>
<circle cx="269.5" cy="406.5" r="1" fill-opacity="0.11"/>
<circle cx="283.0" cy="416.3" r="1" fill-opacity="0.14"/>
<circle cx="335.6" cy="403.8" r="1" fill-opacity="0.1"/>
<circle cx="288.4" cy="424.0" r="1" fill-opacity="0.12"/>
<circle cx="352.5" cy="381.8" r="1" fill-opacity="0.15"/>
<circle cx="264.5" cy="423.8" r="1" fill-opacity="0.18"/>
<circle cx="321.9" cy="411.0" r="1" fill-opacity="0.25"/>
<circle cx="354.2" cy="367.5" r="1" fill-opacity="0.25"/>
<circle cx="297.1" cy="426.7" r="1" fill-opacity="0.21"/>
</g>
<path d="M213.5,470.0C214.5,469.5 218.0,468.3 219.7,467.1C221.4,465.9 222.1,464.1 223.7,462.9C225.3,461.7 228.1,461.2 229.4,460.0C230.7,458.8 231.1,457.1 231.6,455.7C232.1,454.3 232.7,452.7 232.3,451.4C231.9,450.1 229.5,449.2 229.4,447.9C229.3,446.6 230.4,444.4 231.6,443.6C232.8,442.8 234.9,443.3 236.6,442.9C238.3,442.5 240.4,442.2 241.6,441.4C242.8,440.6 243.5,439.3 243.7,437.9C243.9,436.5 243.5,434.3 243.0,432.9C242.5,431.5 241.0,430.3 240.9,429.3C240.8,428.3 241.5,427.2 242.3,427.1C243.1,427.0 244.5,427.6 245.9,428.6C247.3,429.6 249.2,431.9 250.9,432.9C252.6,433.8 254.6,434.4 255.9,434.3C257.2,434.2 258.1,432.2 258.7,432.1C259.3,432.0 259.6,432.8 259.4,433.6C259.2,434.4 257.2,436.2 257.3,437.1C257.4,438.1 258.8,439.3 260.1,439.3C261.4,439.3 263.3,437.8 265.1,437.1C266.9,436.4 269.0,436.1 270.9,435.0C272.8,433.9 274.7,431.9 276.6,430.7C278.5,429.5 280.4,428.6 282.3,427.9C284.2,427.2 286.6,426.4 288.0,426.4C289.4,426.4 290.1,427.1 290.9,427.9C291.7,428.7 291.7,430.6 293.0,431.4C294.3,432.2 296.6,433.1 298.7,432.9C300.8,432.7 304.2,431.3 305.9,430.0C307.6,428.7 307.3,425.7 308.7,425.0C310.1,424.3 312.2,425.3 314.4,425.7C316.5,426.1 319.5,427.2 321.6,427.1C323.8,427.0 325.4,424.8 327.3,425.0C329.2,425.2 331.3,428.5 333.0,428.6C334.7,428.7 336.1,427.1 337.3,425.7C338.5,424.3 339.3,421.9 340.1,420.0C340.9,418.1 341.7,416.0 342.3,414.3C342.9,412.6 342.9,411.6 343.7,410.0C344.5,408.4 346.1,405.9 347.3,404.6C348.5,403.3 349.7,402.6 350.9,402.4C352.1,402.1 353.6,402.4 354.4,403.1C355.2,403.8 355.5,405.5 355.6,406.7C355.7,407.9 355.6,409.1 355.0,410.5C354.4,411.9 352.6,413.9 352.3,415.0C352.0,416.1 352.2,417.0 353.0,417.1C353.8,417.2 355.6,416.5 357.3,415.7C359.0,414.9 361.6,413.1 363.0,412.1C364.4,411.2 364.1,411.0 365.9,410.0C367.7,409.0 372.3,406.7 373.6,406.0L373.6,490.6L213.5,490.6Z" fill="#bfdbf0" stroke="none" fill-rule="evenodd"/>
<path d="M227.8,490.6C227.8,489.6 227.8,486.4 228.0,484.6C228.2,482.8 228.2,481.6 228.7,480.0C229.2,478.4 229.8,476.7 230.9,475.0C232.0,473.3 233.4,471.7 235.1,470.0C236.8,468.3 239.0,466.2 240.9,465.0C242.8,463.8 244.8,463.6 246.6,462.9C248.4,462.2 250.2,461.3 251.6,460.7C253.0,460.1 254.0,459.2 255.1,459.3C256.2,459.4 256.6,460.7 258.0,461.4C259.4,462.1 261.8,463.2 263.7,463.6C265.6,464.0 267.5,463.9 269.4,463.6C271.3,463.3 273.2,462.1 275.1,461.7C277.0,461.3 279.0,461.4 280.9,461.1C282.8,460.8 284.6,459.9 286.6,460.0C288.6,460.1 291.1,461.0 293.0,461.4C294.9,461.8 296.3,462.2 298.0,462.6C299.7,463.0 301.2,463.9 303.0,464.0C304.8,464.1 306.6,463.3 308.7,462.9C310.8,462.5 313.9,462.4 315.9,461.4C317.9,460.4 319.1,457.5 320.9,457.1C322.7,456.8 324.6,458.8 326.6,459.3C328.6,459.8 330.8,460.4 333.0,460.0C335.2,459.6 337.5,457.8 340.1,456.9C342.7,455.9 346.3,455.0 348.7,454.3C351.1,453.6 352.5,453.4 354.4,452.9C356.3,452.4 358.0,451.6 360.1,451.4C362.2,451.1 364.8,451.4 367.0,451.4C369.2,451.4 372.5,451.4 373.6,451.4L373.6,490.6Z" fill="#80b8e0" stroke="none" fill-rule="evenodd"/>
<path d="M245.0,490.6C245.3,489.6 245.6,486.1 246.6,484.6C247.6,483.1 249.5,482.2 250.9,481.4C252.3,480.6 253.4,480.4 255.1,480.0C256.8,479.6 259.0,479.4 260.9,479.3C262.8,479.2 264.7,479.6 266.6,479.7C268.5,479.8 270.4,480.0 272.3,480.0C274.2,480.0 275.9,479.7 278.0,479.6C280.1,479.5 282.6,479.4 285.1,479.3C287.6,479.2 290.2,479.4 293.0,479.3C295.8,479.2 298.8,479.0 301.6,478.6C304.5,478.2 307.2,477.3 310.1,477.1C313.0,476.9 315.8,477.4 318.7,477.4C321.6,477.4 324.4,477.3 327.3,477.1C330.2,476.9 333.0,476.6 335.9,476.4C338.8,476.2 341.3,476.2 344.4,476.0C347.5,475.8 350.6,475.6 354.4,475.4C358.2,475.2 363.8,474.8 367.0,474.6C370.2,474.4 372.5,474.4 373.6,474.4L373.6,490.6Z" fill="#0072c3" stroke="none" fill-rule="evenodd"/>
<path d="M213.5,470.0C214.5,469.5 218.0,468.3 219.7,467.1C221.4,465.9 222.1,464.1 223.7,462.9C225.3,461.7 228.1,461.2 229.4,460.0C230.7,458.8 231.1,457.1 231.6,455.7C232.1,454.3 232.7,452.7 232.3,451.4C231.9,450.1 229.5,449.2 229.4,447.9C229.3,446.6 230.4,444.4 231.6,443.6C232.8,442.8 234.9,443.3 236.6,442.9C238.3,442.5 240.4,442.2 241.6,441.4C242.8,440.6 243.5,439.3 243.7,437.9C243.9,436.5 243.5,434.3 243.0,432.9C242.5,431.5 241.0,430.3 240.9,429.3C240.8,428.3 241.5,427.2 242.3,427.1C243.1,427.0 244.5,427.6 245.9,428.6C247.3,429.6 249.2,431.9 250.9,432.9C252.6,433.8 254.6,434.4 255.9,434.3C257.2,434.2 258.1,432.2 258.7,432.1C259.3,432.0 259.6,432.8 259.4,433.6C259.2,434.4 257.2,436.2 257.3,437.1C257.4,438.1 258.8,439.3 260.1,439.3C261.4,439.3 263.3,437.8 265.1,437.1C266.9,436.4 269.0,436.1 270.9,435.0C272.8,433.9 274.7,431.9 276.6,430.7C278.5,429.5 280.4,428.6 282.3,427.9C284.2,427.2 286.6,426.4 288.0,426.4C289.4,426.4 290.1,427.1 290.9,427.9C291.7,428.7 291.7,430.6 293.0,431.4C294.3,432.2 296.6,433.1 298.7,432.9C300.8,432.7 304.2,431.3 305.9,430.0C307.6,428.7 307.3,425.7 308.7,425.0C310.1,424.3 312.2,425.3 314.4,425.7C316.5,426.1 319.5,427.2 321.6,427.1C323.8,427.0 325.4,424.8 327.3,425.0C329.2,425.2 331.3,428.5 333.0,428.6C334.7,428.7 336.1,427.1 337.3,425.7C338.5,424.3 339.3,421.9 340.1,420.0C340.9,418.1 341.7,416.0 342.3,414.3C342.9,412.6 342.9,411.6 343.7,410.0C344.5,408.4 346.1,405.9 347.3,404.6C348.5,403.3 349.7,402.6 350.9,402.4C352.1,402.1 353.6,402.4 354.4,403.1C355.2,403.8 355.5,405.5 355.6,406.7C355.7,407.9 355.6,409.1 355.0,410.5C354.4,411.9 352.6,413.9 352.3,415.0C352.0,416.1 352.2,417.0 353.0,417.1C353.8,417.2 355.6,416.5 357.3,415.7C359.0,414.9 361.6,413.1 363.0,412.1C364.4,411.2 364.1,411.0 365.9,410.0C367.7,409.0 372.3,406.7 373.6,406.0" fill="none" stroke="#0072c1" stroke-width="1.85" stroke-linejoin="round"/>
<path d="M262.2,421.2C262.6,421.4 264.2,421.4 264.6,422.2C265.0,423.0 264.2,424.8 264.3,426.0C264.4,427.2 265.0,428.9 264.9,429.5C264.8,430.1 263.9,429.9 263.6,429.3C263.3,428.7 263.4,427.4 263.2,426.0C263.0,424.6 262.4,422.0 262.2,421.2" fill="none" stroke="#0072c1" stroke-width="1.85" stroke-linejoin="round"/>
<path d="M227.8,490.6C227.8,489.6 227.8,486.4 228.0,484.6C228.2,482.8 228.2,481.6 228.7,480.0C229.2,478.4 229.8,476.7 230.9,475.0C232.0,473.3 233.4,471.7 235.1,470.0C236.8,468.3 239.0,466.2 240.9,465.0C242.8,463.8 244.8,463.6 246.6,462.9C248.4,462.2 250.2,461.3 251.6,460.7C253.0,460.1 254.0,459.2 255.1,459.3C256.2,459.4 256.6,460.7 258.0,461.4C259.4,462.1 261.8,463.2 263.7,463.6C265.6,464.0 267.5,463.9 269.4,463.6C271.3,463.3 273.2,462.1 275.1,461.7C277.0,461.3 279.0,461.4 280.9,461.1C282.8,460.8 284.6,459.9 286.6,460.0C288.6,460.1 291.1,461.0 293.0,461.4C294.9,461.8 296.3,462.2 298.0,462.6C299.7,463.0 301.2,463.9 303.0,464.0C304.8,464.1 306.6,463.3 308.7,462.9C310.8,462.5 313.9,462.4 315.9,461.4C317.9,460.4 319.1,457.5 320.9,457.1C322.7,456.8 324.6,458.8 326.6,459.3C328.6,459.8 330.8,460.4 333.0,460.0C335.2,459.6 337.5,457.8 340.1,456.9C342.7,455.9 346.3,455.0 348.7,454.3C351.1,453.6 352.5,453.4 354.4,452.9C356.3,452.4 358.0,451.6 360.1,451.4C362.2,451.1 364.8,451.4 367.0,451.4C369.2,451.4 372.5,451.4 373.6,451.4" fill="none" stroke="#0072c1" stroke-width="1.85" stroke-linejoin="round"/>
</g>
<g clip-path="url(#c22)">
<path d="M375.3,484.6L375.3,350.0L374.6,350.0L377.6,350.0L377.6,385.7L380.5,385.7L380.5,407.6L383.5,407.6L383.5,425.0L386.4,425.0L386.4,438.3L389.4,438.3L389.4,447.1L392.4,447.1L392.4,456.4L395.3,456.4L395.3,464.3L398.3,464.3L398.3,468.6L401.2,468.6L401.2,472.1L404.2,472.1L404.2,474.0L407.2,474.0L407.2,476.4L410.1,476.4L410.1,478.6L413.1,478.6L413.1,480.0L416.0,480.0L416.0,481.1L419.0,481.1L419.0,481.9L422.0,481.9L422.0,482.6L424.9,482.6L424.9,483.1L427.9,483.1L427.9,483.7L430.8,483.7L430.8,484.0L433.8,484.0L433.8,484.0L436.8,484.0L436.8,484.0L439.7,484.0L439.7,484.0L442.7,484.0L442.7,484.0L445.6,484.0L445.6,484.0L448.6,484.0L448.6,484.3L451.6,484.3L451.6,484.3L454.5,484.3L454.5,484.3L457.5,484.3L457.5,484.3L460.4,484.3L460.4,484.3L463.4,484.3L463.4,484.3L466.4,484.3L466.4,484.3L469.3,484.3L469.3,484.3L472.3,484.3L472.3,484.3L475.2,484.3L475.2,484.3L478.2,484.3L478.2,484.3L481.2,484.3L481.2,484.3L484.1,484.3L484.1,484.3L487.1,484.3L487.1,484.3L490.0,484.3L490.0,484.3L493.0,484.3L493.0,484.3L496.0,484.3L496.0,484.3L498.9,484.3L498.9,484.3L501.9,484.3L501.9,484.3L504.8,484.3L504.8,484.3L507.8,484.3L507.8,484.3L510.8,484.3L510.8,484.3L513.7,484.3L513.7,484.3L516.7,484.3L516.7,484.3L519.6,484.3L519.6,484.3L522.6,484.3L522.6,484.6" fill="none" stroke="#0072c1" stroke-width="1.15" stroke-linejoin="miter"/>
</g>
<rect x="64.5" y="26.5" width="147.9" height="147.8" fill="none" stroke="#878787" stroke-width="1.1"/>
<line x1="97.1" y1="174.60000000000002" x2="97.1" y2="164.3" stroke="#1a1a1a" stroke-width="1"/>
<line x1="146.5" y1="174.60000000000002" x2="146.5" y2="164.3" stroke="#1a1a1a" stroke-width="1"/>
<line x1="195.9" y1="174.60000000000002" x2="195.9" y2="164.3" stroke="#1a1a1a" stroke-width="1"/>
<line x1="64.2" y1="45.3" x2="74.5" y2="45.3" stroke="#1a1a1a" stroke-width="1"/>
<line x1="64.2" y1="109.9" x2="74.5" y2="109.9" stroke="#1a1a1a" stroke-width="1"/>
<line x1="64.2" y1="174.3" x2="74.5" y2="174.3" stroke="#1a1a1a" stroke-width="1"/>
<rect x="64.5" y="181.8" width="147.9" height="147.7" fill="none" stroke="#878787" stroke-width="1.1"/>
<line x1="97.1" y1="329.8" x2="97.1" y2="319.5" stroke="#1a1a1a" stroke-width="1"/>
<line x1="146.5" y1="329.8" x2="146.5" y2="319.5" stroke="#1a1a1a" stroke-width="1"/>
<line x1="195.9" y1="329.8" x2="195.9" y2="319.5" stroke="#1a1a1a" stroke-width="1"/>
<line x1="64.2" y1="198.6" x2="74.5" y2="198.6" stroke="#1a1a1a" stroke-width="1"/>
<line x1="64.2" y1="248.9" x2="74.5" y2="248.9" stroke="#1a1a1a" stroke-width="1"/>
<line x1="64.2" y1="298.9" x2="74.5" y2="298.9" stroke="#1a1a1a" stroke-width="1"/>
<rect x="219.6" y="181.8" width="147.7" height="147.7" fill="none" stroke="#878787" stroke-width="1.1"/>
<line x1="250.1" y1="329.8" x2="250.1" y2="319.5" stroke="#1a1a1a" stroke-width="1"/>
<line x1="300.4" y1="329.8" x2="300.4" y2="319.5" stroke="#1a1a1a" stroke-width="1"/>
<line x1="350.7" y1="329.8" x2="350.7" y2="319.5" stroke="#1a1a1a" stroke-width="1"/>
<line x1="219.29999999999998" y1="194.2" x2="229.6" y2="194.2" stroke="#1a1a1a" stroke-width="1"/>
<line x1="219.29999999999998" y1="262.3" x2="229.6" y2="262.3" stroke="#1a1a1a" stroke-width="1"/>
<line x1="219.29999999999998" y1="329.5" x2="229.6" y2="329.5" stroke="#1a1a1a" stroke-width="1"/>
<rect x="64.5" y="337.2" width="147.9" height="147.4" fill="none" stroke="#878787" stroke-width="1.1"/>
<line x1="97.1" y1="484.90000000000003" x2="97.1" y2="474.6" stroke="#1a1a1a" stroke-width="1"/>
<line x1="146.5" y1="484.90000000000003" x2="146.5" y2="474.6" stroke="#1a1a1a" stroke-width="1"/>
<line x1="195.9" y1="484.90000000000003" x2="195.9" y2="474.6" stroke="#1a1a1a" stroke-width="1"/>
<line x1="64.2" y1="376.2" x2="74.5" y2="376.2" stroke="#1a1a1a" stroke-width="1"/>
<line x1="64.2" y1="431.0" x2="74.5" y2="431.0" stroke="#1a1a1a" stroke-width="1"/>
<rect x="219.6" y="337.2" width="147.7" height="147.4" fill="none" stroke="#878787" stroke-width="1.1"/>
<line x1="250.1" y1="484.90000000000003" x2="250.1" y2="474.6" stroke="#1a1a1a" stroke-width="1"/>
<line x1="300.4" y1="484.90000000000003" x2="300.4" y2="474.6" stroke="#1a1a1a" stroke-width="1"/>
<line x1="350.7" y1="484.90000000000003" x2="350.7" y2="474.6" stroke="#1a1a1a" stroke-width="1"/>
<line x1="219.29999999999998" y1="376.2" x2="229.6" y2="376.2" stroke="#1a1a1a" stroke-width="1"/>
<line x1="219.29999999999998" y1="431.0" x2="229.6" y2="431.0" stroke="#1a1a1a" stroke-width="1"/>
<rect x="374.6" y="337.2" width="148.0" height="147.4" fill="none" stroke="#878787" stroke-width="1.1"/>
<line x1="428.5" y1="484.90000000000003" x2="428.5" y2="474.6" stroke="#1a1a1a" stroke-width="1"/>
<line x1="483.5" y1="484.90000000000003" x2="483.5" y2="474.6" stroke="#1a1a1a" stroke-width="1"/>
<line x1="374.3" y1="382.9" x2="384.6" y2="382.9" stroke="#1a1a1a" stroke-width="1"/>
<line x1="374.3" y1="434.0" x2="384.6" y2="434.0" stroke="#1a1a1a" stroke-width="1"/>
<line x1="374.3" y1="484.6" x2="384.6" y2="484.6" stroke="#1a1a1a" stroke-width="1"/>
<line x1="65.1" y1="174.3" x2="65.1" y2="26.5" stroke="#0072c1" stroke-width="1.6" stroke-dasharray="5.65 2.4" stroke-dashoffset="6.85"/>
<line x1="156.6" y1="174.3" x2="156.6" y2="26.5" stroke="#0072c1" stroke-width="1.6" stroke-dasharray="5.65 2.4" stroke-dashoffset="6.85"/>
<line x1="243.7" y1="329.5" x2="243.7" y2="181.8" stroke="#0072c1" stroke-width="1.6" stroke-dasharray="5.65 2.4" stroke-dashoffset="6.85"/>
<line x1="362.9" y1="329.5" x2="362.9" y2="181.8" stroke="#0072c1" stroke-width="1.6" stroke-dasharray="5.65 2.4" stroke-dashoffset="6.85"/>
<line x1="411.6" y1="484.6" x2="411.6" y2="337.2" stroke="#0072c1" stroke-width="1.6" stroke-dasharray="5.65 2.4" stroke-dashoffset="6.85"/>
<g font-family="'Liberation Serif', 'DejaVu Serif', serif" fill="#262626">
<text x="108.7" y="16.2" font-size="16.6" textLength="27.8" lengthAdjust="spacingAndGlyphs">2.38</text>
<text x="137.5" y="9.6" font-size="11.3" textLength="28.6" lengthAdjust="spacingAndGlyphs">+4.24</text>
<text x="137.5" y="20.6" font-size="11.3" textLength="28.6" lengthAdjust="spacingAndGlyphs">−1.34</text>
<text x="264.4" y="171.0" font-size="16.6" textLength="27.8" lengthAdjust="spacingAndGlyphs">6.79</text>
<text x="293.4" y="164.4" font-size="11.3" textLength="28.6" lengthAdjust="spacingAndGlyphs">+2.96</text>
<text x="293.4" y="175.4" font-size="11.3" textLength="28.6" lengthAdjust="spacingAndGlyphs">−4.14</text>
<text x="419.4" y="326.5" font-size="16.6" textLength="27.8" lengthAdjust="spacingAndGlyphs">0.01</text>
<text x="448.4" y="319.9" font-size="11.3" textLength="28.6" lengthAdjust="spacingAndGlyphs">+0.04</text>
<text x="448.4" y="330.9" font-size="11.3" textLength="28.6" lengthAdjust="spacingAndGlyphs">−0.01</text>
<text transform="translate(95.9,495.6) rotate(-45)" font-size="17" text-anchor="middle" dominant-baseline="central">3</text>
<text transform="translate(145.3,495.6) rotate(-45)" font-size="17" text-anchor="middle" dominant-baseline="central">6</text>
<text transform="translate(194.7,495.6) rotate(-45)" font-size="17" text-anchor="middle" dominant-baseline="central">9</text>
<text transform="translate(248.9,495.6) rotate(-45)" font-size="17" text-anchor="middle" dominant-baseline="central">3</text>
<text transform="translate(299.2,495.6) rotate(-45)" font-size="17" text-anchor="middle" dominant-baseline="central">6</text>
<text transform="translate(349.5,495.6) rotate(-45)" font-size="17" text-anchor="middle" dominant-baseline="central">9</text>
<text transform="translate(427.5,503.0) rotate(-45)" font-size="17" text-anchor="middle" dominant-baseline="central">0.08</text>
<text transform="translate(482.5,503.0) rotate(-45)" font-size="17" text-anchor="middle" dominant-baseline="central">0.16</text>
<text transform="translate(51.4,199.8) rotate(-45)" font-size="17" text-anchor="middle" dominant-baseline="central">9</text>
<text transform="translate(51.4,250.1) rotate(-45)" font-size="17" text-anchor="middle" dominant-baseline="central">6</text>
<text transform="translate(51.4,300.1) rotate(-45)" font-size="17" text-anchor="middle" dominant-baseline="central">3</text>
<text transform="translate(44.8,384.1) rotate(-45)" font-size="17" text-anchor="middle" dominant-baseline="central">0.16</text>
<text transform="translate(44.8,438.9) rotate(-45)" font-size="17" text-anchor="middle" dominant-baseline="central">0.08</text>
<text x="129" y="539"><tspan font-style="italic" font-size="19">α</tspan><tspan font-style="italic" font-size="11.4" dx="1.8" dy="2.3">χ</tspan></text>
<text x="285" y="539.2"><tspan font-style="italic" font-size="17.5">β</tspan><tspan font-style="italic" font-size="11.4" dx="2.0" dy="3.5">χ</tspan></text>
<text x="441" y="538.3"><tspan font-style="italic" font-size="16.5">λ</tspan><tspan font-size="12" dx="0.8" dy="2.8">0</tspan></text>
<text transform="translate(13.3,263.2) rotate(-90)"><tspan font-style="italic" font-size="17.5">β</tspan><tspan font-style="italic" font-size="11.2" dx="0.8" dy="2.8">χ</tspan></text>
<text transform="translate(13.5,418.5) rotate(-90)"><tspan font-style="italic" font-size="16.5">λ</tspan><tspan font-size="12" dx="0.8" dy="2.8">0</tspan></text>
</g>
</svg>
</body></html>
